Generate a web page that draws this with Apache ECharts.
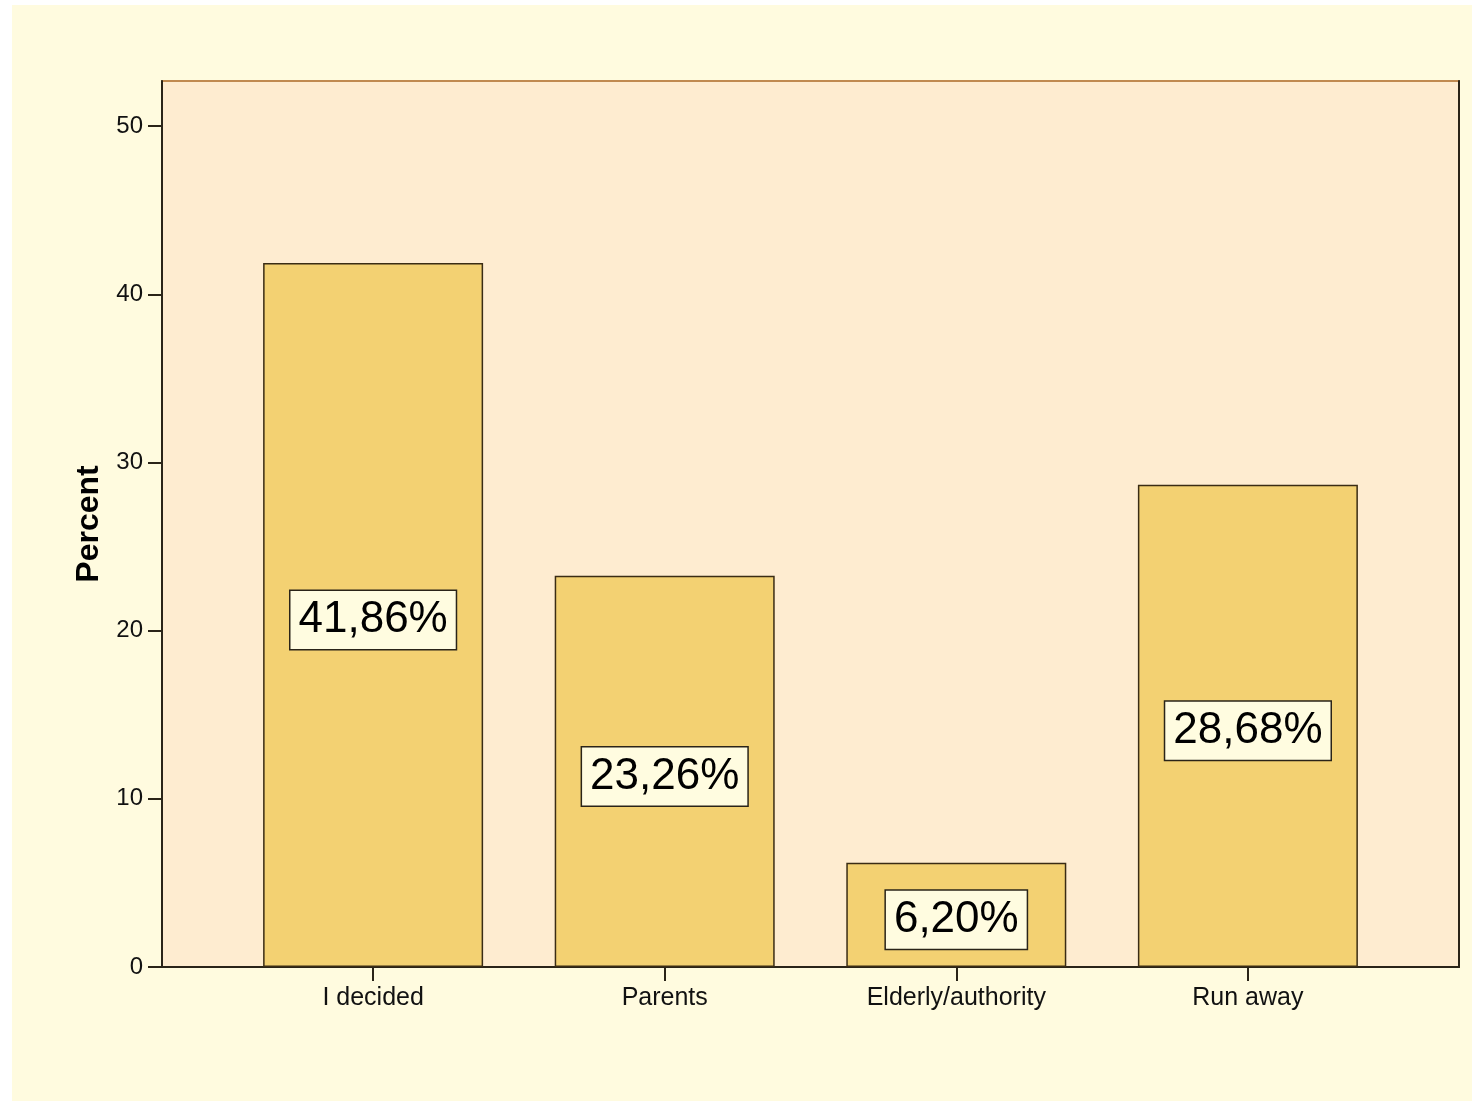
<!DOCTYPE html>
<html>
<head>
<meta charset="utf-8">
<script src="https://cdn.jsdelivr.net/npm/echarts@6/dist/echarts.min.js"></script>
<style>
html,body{margin:0;padding:0;background:#ffffff;width:1479px;height:1101px;overflow:hidden;}
#panel{position:absolute;left:12px;top:5px;width:1460px;height:1096px;background:#FFFBDF;}
#chart{position:absolute;left:0;top:0;width:1479px;height:1101px;}
</style>
</head>
<body>
<div id="panel"></div>
<div id="chart"></div>
<script>
const categories = ['I decided', 'Parents', 'Elderly/authority', 'Run away'];
const percents = [41.86, 23.26, 6.20, 28.68];
const yTicks = [0, 10, 20, 30, 40, 50];
const positions = [0, 1, 2, 3];

const chart = echarts.init(document.getElementById('chart'), null, {renderer: 'canvas'});
const font = 'Liberation Sans, Arial, sans-serif';
const dark = '#2a2418';

chart.setOption({
  backgroundColor: 'transparent',
  animation: false,
  grid: {
    left: 162, right: 20, top: 81, bottom: 134,
    show: true,
    backgroundColor: '#FEECD0',
    borderColor: '#C08A50',
    borderWidth: 2
  },
  xAxis: {
    type: 'value',
    min: -0.724,
    max: 3.724,
    splitLine: {show: false},
    axisLine: {show: true, onZero: false, lineStyle: {color: dark, width: 2}},
    axisTick: {show: true, length: 14, lineStyle: {color: dark, width: 2}, customValues: positions},
    axisLabel: {
      customValues: positions,
      margin: 19,
      color: '#111',
      fontFamily: font,
      fontSize: 25,
      formatter: v => categories[Math.round(v)]
    }
  },
  yAxis: [{
    type: 'value',
    min: 0,
    max: 52.68,
    name: 'Percent',
    nameLocation: 'middle',
    nameGap: 57,
    nameTextStyle: {fontFamily: font, fontSize: 32, fontWeight: 'bold', color: '#000'},
    splitLine: {show: false},
    axisLine: {show: true, onZero: false, lineStyle: {color: dark, width: 2}},
    axisTick: {show: true, length: 14, lineStyle: {color: dark, width: 2}, customValues: yTicks},
    axisLabel: {customValues: yTicks, margin: 19, color: '#111', fontFamily: font, fontSize: 24}
  }, {
    type: 'value',
    position: 'right',
    min: 0,
    max: 52.68,
    splitLine: {show: false},
    axisLine: {show: true, onZero: false, lineStyle: {color: dark, width: 2}},
    axisTick: {show: false},
    axisLabel: {show: false}
  }],
  series: [{
    type: 'bar',
    barWidth: 220,
    data: positions.map((p, i) => [p, percents[i]]),
    itemStyle: {color: '#F3D172', borderColor: '#3a2c14', borderWidth: 1.5},
    label: {
      show: true,
      position: 'inside',
      offset: [0, 5],
      formatter: p => p.value[1].toFixed(2).replace('.', ',') + '%',
      fontFamily: font,
      fontSize: 44,
      color: '#000',
      backgroundColor: '#FFFCE0',
      borderColor: '#2a2418',
      borderWidth: 1.5,
      padding: [8, 8, 6, 8]
    }
  }]
});
</script>
</body>
</html>
